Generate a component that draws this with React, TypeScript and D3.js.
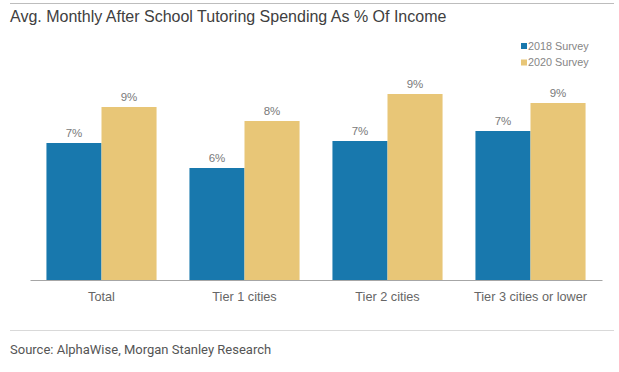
import React, { useEffect, useRef } from "react";
import * as d3 from "d3";

const categories = ["Total", "Tier 1 cities", "Tier 2 cities", "Tier 3 cities or lower"];
const seriesNames = ["2018 Survey", "2020 Survey"];
const survey2018 = [6.85, 5.6, 6.95, 7.45];
const survey2020 = [8.65, 7.95, 9.3, 8.85];
const seriesColors = ["#1878ad", "#e8c677"];

const width = 619;
const height = 372;

const App: React.FC = () => {
    const svgRef = useRef<SVGSVGElement>(null);

    useEffect(() => {
        if (!svgRef.current) return;
        const svg = d3.select(svgRef.current);
        svg.selectAll("*").remove();

        const margin = { top: 80, left: 30, right: 17, bottom: 92 };
        const baseline = height - margin.bottom;

        // frame lines and title
        svg.append("line")
            .attr("x1", 10).attr("x2", 614)
            .attr("y1", 3.5).attr("y2", 3.5)
            .attr("stroke", "#bdbdbd").attr("stroke-width", 1);

        svg.append("text")
            .attr("x", 10).attr("y", 22)
            .attr("font-family", "Liberation Sans, Arial, sans-serif")
            .attr("font-size", 16)
            .attr("fill", "#404040")
            .text("Avg. Monthly After School Tutoring Spending As % Of Income");

        const x = d3.scaleBand<string>()
            .domain(categories)
            .range([margin.left, width - margin.right])
            .paddingInner(0.23)
            .paddingOuter(0.115);

        const inner = d3.scaleBand<string>()
            .domain(seriesNames)
            .range([0, x.bandwidth()]);

        const y = d3.scaleLinear().domain([0, 10]).range([baseline, margin.top]);

        const series = [survey2018, survey2020];

        const groups = svg.append("g")
            .selectAll("g")
            .data(categories)
            .join("g")
            .attr("transform", (d) => `translate(${x(d)},0)`);

        seriesNames.forEach((name, si) => {
            groups.append("rect")
                .attr("x", inner(name)!)
                .attr("y", (_, i) => y(series[si][i]))
                .attr("width", inner.bandwidth())
                .attr("height", (_, i) => baseline - y(series[si][i]))
                .attr("fill", seriesColors[si]);

            groups.append("text")
                .attr("x", inner(name)! + inner.bandwidth() / 2)
                .attr("y", (_, i) => y(series[si][i]) - 6)
                .attr("text-anchor", "middle")
                .attr("font-family", "Liberation Sans, Arial, sans-serif")
                .attr("font-size", 11.5)
                .attr("fill", "#7a7a7a")
                .text((_, i) => `${Math.round(series[si][i])}%`);
        });

        // x axis
        const xAxis = svg.append("g")
            .attr("transform", `translate(0,${baseline})`)
            .call(d3.axisBottom(x).tickSize(0).tickPadding(12));
        xAxis.select(".domain").attr("stroke", "#a6a6a6");
        xAxis.selectAll("text")
            .attr("font-family", "Liberation Sans, Arial, sans-serif")
            .attr("font-size", 12.7)
            .attr("fill", "#666666");

        // legend
        const legend = svg.append("g").attr("transform", "translate(521,46)");
        seriesNames.forEach((name, i) => {
            const row = legend.append("g").attr("transform", `translate(0,${i * 16.5})`);
            row.append("rect")
                .attr("x", 0).attr("y", -3)
                .attr("width", 6).attr("height", 6)
                .attr("fill", seriesColors[i]);
            row.append("text")
                .attr("x", 7).attr("y", 3.5)
                .attr("font-family", "Liberation Sans, Arial, sans-serif")
                .attr("font-size", 10.8)
                .attr("fill", "#858585")
                .text(name);
        });

        // footer
        svg.append("line")
            .attr("x1", 10).attr("x2", 614)
            .attr("y1", 330.5).attr("y2", 330.5)
            .attr("stroke", "#d9d9d9").attr("stroke-width", 1);

        svg.append("text")
            .attr("x", 10).attr("y", 354)
            .attr("font-family", "Roboto, sans-serif")
            .attr("font-size", 13)
            .attr("fill", "#555555")
            .text("Source: AlphaWise, Morgan Stanley Research");
    }, []);

    return (
        <svg
            ref={svgRef}
            width={width}
            height={height}
            style={{ position: "absolute", left: 0, top: 0, background: "#ffffff" }}
        ></svg>
    );
};

export default App;
